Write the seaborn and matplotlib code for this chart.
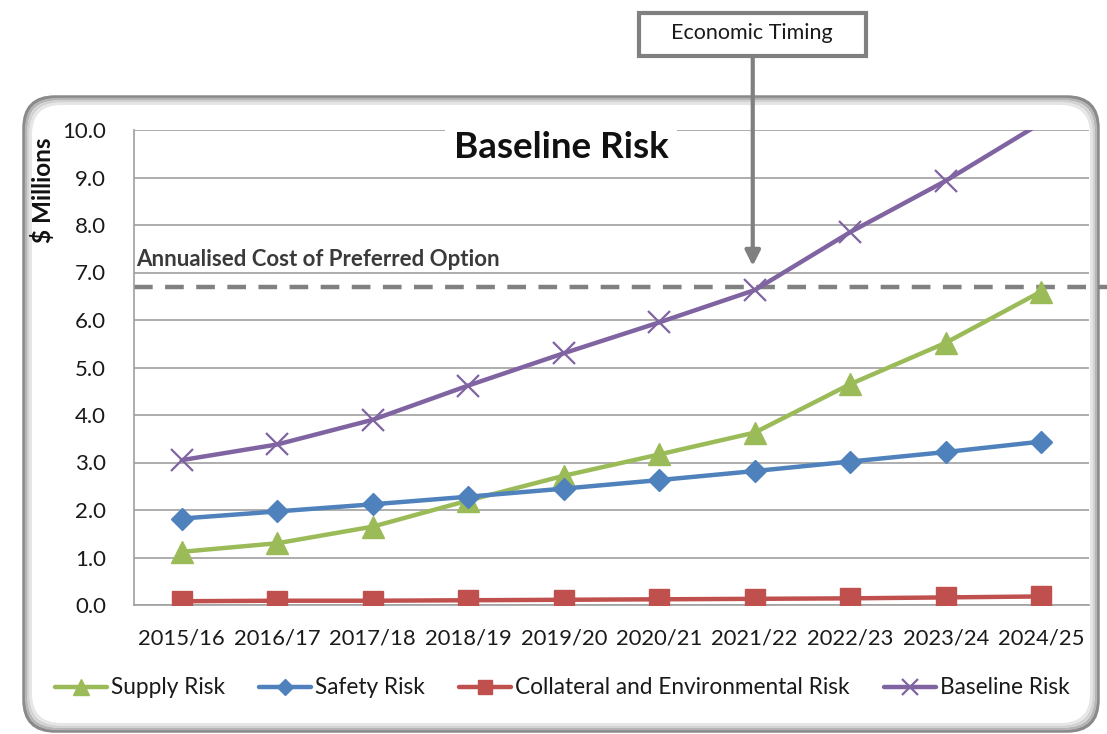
import matplotlib
matplotlib.use("Agg")
import matplotlib.pyplot as plt
from matplotlib.patches import FancyBboxPatch, Rectangle
from matplotlib.transforms import blended_transform_factory
import numpy as np
import pandas as pd
import seaborn as sns

years = ["2015/16", "2016/17", "2017/18", "2018/19", "2019/20",
         "2020/21", "2021/22", "2022/23", "2023/24", "2024/25"]
supply_risk = [1.12, 1.30, 1.65, 2.20, 2.72, 3.17, 3.63, 4.65, 5.52, 6.60]
safety_risk = [1.82, 1.97, 2.12, 2.28, 2.45, 2.63, 2.82, 3.02, 3.22, 3.44]
collateral_risk = [0.08, 0.09, 0.09, 0.10, 0.11, 0.12, 0.13, 0.14, 0.16, 0.18]
baseline_risk = [3.05, 3.38, 3.90, 4.62, 5.30, 5.95, 6.63, 7.85, 8.93, 10.15]
annualised_cost = 6.7
economic_timing_year = "2021/22"
y_max = 10.0

sns.set_style("white")
plt.rcParams["font.family"] = ["Lato", "DejaVu Sans"]

W, H = 1107, 734
fig = plt.figure(figsize=(W / 100, H / 100), dpi=100)

def fx(px):
    return px / W

def fy(py):
    return 1 - py / H

# rounded chart frame with a soft inner shadow
for i, (c, lw) in enumerate([("#8a8a8a", 2.5), ("#b5b5b5", 2.0), ("#d2d2d2", 2.0), ("#e6e6e6", 2.0)]):
    off = i * 2.2
    frame = FancyBboxPatch((fx(24 + off), fy(731 - off)), fx(1074 - 2 * off), fy(97 + off) - fy(731 - off),
                           boxstyle="round,pad=0,rounding_size=0.028", transform=fig.transFigure,
                           facecolor="white" if i == 0 else "none", edgecolor=c, linewidth=lw,
                           mutation_aspect=W / H, zorder=0)
    fig.add_artist(frame)

ax = fig.add_axes([fx(134), fy(605), fx(1089) - fx(134), fy(130) - fy(605)])
ax.set_facecolor("none")

df = pd.DataFrame({"year": years, "Supply Risk": supply_risk, "Safety Risk": safety_risk,
                   "Collateral and Environmental Risk": collateral_risk, "Baseline Risk": baseline_risk})
x = np.arange(len(years))

styles = [
    ("Supply Risk", "#9BBB59", "^", 16, 1.0),
    ("Safety Risk", "#4F81BD", "D", 11, 1.0),
    ("Collateral and Environmental Risk", "#C0504D", "s", 14, 1.0),
    ("Baseline Risk", "#8064A2", "x", 16, 1.6),
]
for name, color, marker, ms, mew in styles:
    # markers are only shown for points inside the value range
    shown = [i for i, v in enumerate(df[name]) if v <= y_max]
    sns.lineplot(x=x, y=df[name], ax=ax, color=color, linewidth=3.2, marker=marker,
                 markersize=ms, markeredgecolor=color, markeredgewidth=mew, label=name, zorder=3,
                 markevery=shown)

ax.set_xlim(-0.5, len(years) - 0.5)
ax.set_ylim(0, y_max)

ax.set_yticks(np.arange(0, y_max + 0.1, 1.0))
ax.set_yticklabels([f"{v:.1f}" for v in np.arange(0, y_max + 0.1, 1.0)], fontsize=16, color="#1a1a1a")
ax.set_xticks(x)
ax.set_xticklabels(years, fontsize=15.8, color="#1a1a1a")
ax.set_xticks(np.arange(-0.5, len(years)), minor=True)
ax.tick_params(axis="x", which="major", length=0, pad=17)
ax.tick_params(axis="x", which="minor", length=9, color="#a0a0a0", width=1.2, direction="out")
ax.tick_params(axis="y", which="major", length=8, color="#a0a0a0", width=1.2, direction="out", pad=12)
ax.grid(axis="y", color="#a0a0a0", linewidth=1.2, zorder=0)
ax.set_axisbelow(True)
for s in ["top", "right"]:
    ax.spines[s].set_visible(False)
for s in ["left", "bottom"]:
    ax.spines[s].set_color("#a0a0a0")
    ax.spines[s].set_linewidth(1.2)
ax.set_ylabel("")
ax.set_xlabel("")

# preferred option cost line, running past the plot area
trans = blended_transform_factory(fig.transFigure, ax.transData)
ax.plot([fx(134), 1.0], [annualised_cost, annualised_cost], transform=trans, clip_on=False,
        color="#808080", linewidth=3.2, linestyle=(0, (4.2, 2.8)), zorder=2)
fig.text(fx(136), fy(260), "Annualised Cost of Preferred Option", fontsize=16, fontweight="bold",
         color="#3a3a3a", va="center", ha="left")

# chart title on a white box
fig.text(fx(561), fy(147), "Baseline Risk", fontsize=26.5, fontweight="bold", color="#111111",
         ha="center", va="center",
         bbox=dict(boxstyle="square,pad=0.24", facecolor="white", edgecolor="none"), zorder=5)

# y axis caption
fig.text(fx(43), fy(190), "$ Millions", fontsize=17.5, fontweight="bold", rotation=90,
         ha="center", va="center", color="#111111")

# economic timing callout
xi = years.index(economic_timing_year)
px_year = 134 + (xi + 0.5) * (1089 - 134) / len(years)
fig.add_artist(Rectangle((fx(639), fy(56)), fx(866) - fx(639), fy(13) - fy(56), transform=fig.transFigure,
                         facecolor="white", edgecolor="#808080", linewidth=3, zorder=6))
fig.text(fx(752), fy(33), "Economic Timing", fontsize=15.5, color="#1a1a1a", ha="center", va="center",
         zorder=7)
ax.annotate("", xy=(fx(px_year - 2), fy(266)), xycoords="figure fraction",
            xytext=(fx(px_year - 2), fy(57)), textcoords="figure fraction",
            arrowprops=dict(arrowstyle="-|>,head_length=0.9,head_width=0.45", color="#808080",
                            linewidth=3, shrinkA=0, shrinkB=0), annotation_clip=False)

handles, labels = ax.get_legend_handles_labels()
ax.get_legend().remove()
fig.legend(handles, labels, loc="center", bbox_to_anchor=(fx(562), fy(688)), ncol=4, frameon=False,
           fontsize=16.3, handlelength=2.3, handletextpad=0.18, columnspacing=1.5, markerscale=0.7,
           labelcolor="#1a1a1a")

fig.savefig("out.png", dpi=100)
